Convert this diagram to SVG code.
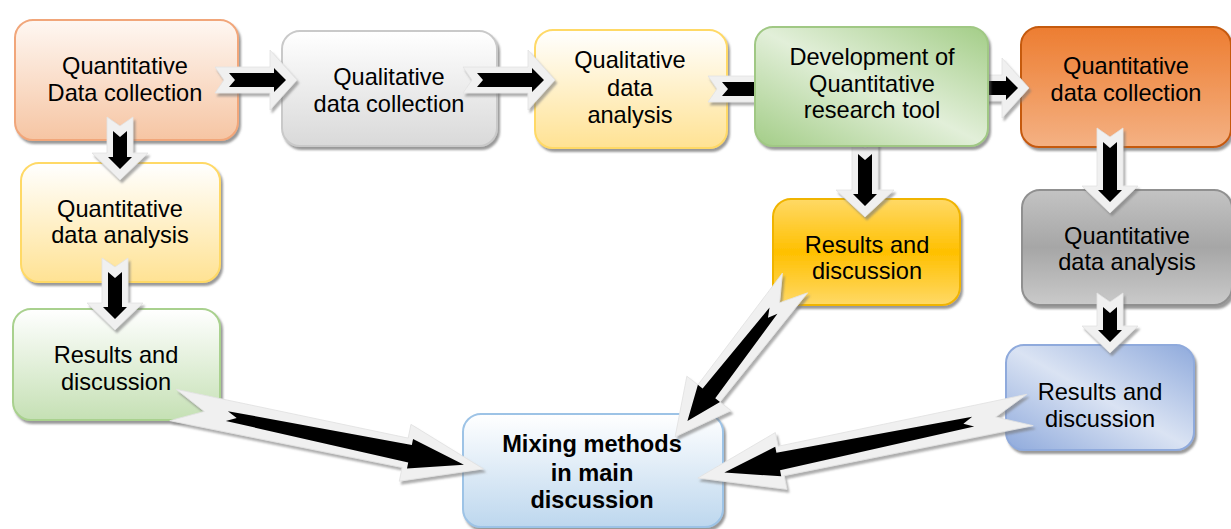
<svg xmlns="http://www.w3.org/2000/svg" width="1231" height="529" viewBox="0 0 1231 529">
<style>
.t{font-family:"Liberation Sans",Arial,sans-serif;font-size:23.6px;fill:#000;text-anchor:middle}
.b{font-weight:bold}
.box{stroke-width:2}
.ao{fill:#f0f0f0;stroke:#e2e2e2;stroke-width:0.8}
.ai{fill:#000}
</style>
<defs>
<filter id="bs" x="-10%" y="-10%" width="125%" height="130%">
<feDropShadow dx="2" dy="3" stdDeviation="1.2" flood-color="#555" flood-opacity="0.6"/>
</filter>
<filter id="as" x="-20%" y="-20%" width="140%" height="140%">
<feDropShadow dx="2" dy="3" stdDeviation="0.8" flood-color="#777" flood-opacity="0.6"/>
</filter>
<linearGradient id="g1" x1="0" y1="0" x2="0" y2="1"><stop offset="0" stop-color="#fef7f2"/><stop offset="1" stop-color="#f6c5a3"/></linearGradient>
<linearGradient id="g2" x1="0" y1="0" x2="0" y2="1"><stop offset="0" stop-color="#ffffff"/><stop offset="1" stop-color="#d9d9d9"/></linearGradient>
<linearGradient id="g3" x1="0" y1="0" x2="0" y2="1"><stop offset="0" stop-color="#ffffff"/><stop offset="1" stop-color="#ffe293"/></linearGradient>
<linearGradient id="g4" x1="0" y1="1" x2="1" y2="0"><stop offset="0" stop-color="#a3cd87"/><stop offset="0.5" stop-color="#e2efd9"/><stop offset="1" stop-color="#a3cd87"/></linearGradient>
<linearGradient id="g5" x1="0" y1="0" x2="0" y2="1"><stop offset="0" stop-color="#ed7d31"/><stop offset="1" stop-color="#f4b183"/></linearGradient>
<linearGradient id="g7" x1="0" y1="0" x2="0" y2="1"><stop offset="0" stop-color="#ffffff"/><stop offset="1" stop-color="#c5e0b4"/></linearGradient>
<linearGradient id="g8" x1="0" y1="0" x2="0" y2="1"><stop offset="0" stop-color="#ffd966"/><stop offset="0.5" stop-color="#ffc000"/><stop offset="1" stop-color="#ffd966"/></linearGradient>
<linearGradient id="g9" x1="0" y1="0" x2="0" y2="1"><stop offset="0" stop-color="#c3c3c3"/><stop offset="0.5" stop-color="#a6a6a6"/><stop offset="1" stop-color="#cacaca"/></linearGradient>
<linearGradient id="g10" x1="0" y1="1" x2="1" y2="0"><stop offset="0" stop-color="#8faadc"/><stop offset="0.5" stop-color="#dae3f3"/><stop offset="1" stop-color="#8faadc"/></linearGradient>
<linearGradient id="g11" x1="0" y1="0" x2="0" y2="1"><stop offset="0" stop-color="#ffffff"/><stop offset="1" stop-color="#bdd7ee"/></linearGradient>
</defs>

<g id="n1"><rect class="box" x="15" y="20" width="223" height="120" rx="18" fill="url(#g1)" stroke="#f1a67a" filter="url(#bs)"/>
<text class="t" x="125" y="74">Quantitative</text><text class="t" x="125" y="101">Data collection</text></g>
<g id="n2"><rect class="box" x="282" y="31" width="215" height="115" rx="18" fill="url(#g2)" stroke="#c9c9c9" filter="url(#bs)"/>
<text class="t" x="389" y="85">Qualitative</text><text class="t" x="389" y="112">data collection</text></g>
<g id="n3"><rect class="box" x="535" y="30" width="192" height="118" rx="18" fill="url(#g3)" stroke="#ffd966" filter="url(#bs)"/>
<text class="t" x="630" y="68">Qualitative</text><text class="t" x="630" y="96">data</text><text class="t" x="630" y="123">analysis</text></g>
<g id="n5"><rect class="box" x="1021" y="27" width="210" height="120" rx="18" fill="url(#g5)" stroke="#c55a11" filter="url(#bs)"/>
<text class="t" x="1126" y="74">Quantitative</text><text class="t" x="1126" y="101">data collection</text></g>
<g id="n6"><rect class="box" x="21" y="163" width="199" height="119" rx="18" fill="url(#g3)" stroke="#ffd966" filter="url(#bs)"/>
<text class="t" x="120" y="217">Quantitative</text><text class="t" x="120" y="243">data analysis</text></g>
<g id="n7"><rect class="box" x="13" y="309" width="207" height="111" rx="18" fill="url(#g7)" stroke="#a9d18e" filter="url(#bs)"/>
<text class="t" x="116" y="363">Results and</text><text class="t" x="116" y="390">discussion</text></g>
<g id="n8"><rect class="box" x="773" y="199" width="187" height="106" rx="18" fill="url(#g8)" stroke="#f0b400" filter="url(#bs)"/>
<text class="t" x="867" y="253">Results and</text><text class="t" x="867" y="279">discussion</text></g>
<g id="n9"><rect class="box" x="1022" y="190" width="210" height="115" rx="18" fill="url(#g9)" stroke="#909090" filter="url(#bs)"/>
<text class="t" x="1127" y="244">Quantitative</text><text class="t" x="1127" y="270">data analysis</text></g>
<g id="n10"><rect class="box" x="1006" y="345" width="188" height="105" rx="18" fill="url(#g10)" stroke="#8faadc" filter="url(#bs)"/>
<text class="t" x="1100" y="400">Results and</text><text class="t" x="1100" y="427">discussion</text></g>
<g id="n11"><rect class="box" x="463" y="414" width="260" height="113" rx="18" fill="url(#g11)" stroke="#9dc3e6" filter="url(#bs)"/>
<text class="t b" x="592" y="452">Mixing methods</text><text class="t b" x="592" y="481">in main</text><text class="t b" x="592" y="508">discussion</text></g>

<g id="connectors">
<g filter="url(#as)"><path class="ao" transform="translate(215,80)" d="M0,-13 L55,-13 L55,-30 L82,0 L55,30 L55,13 L0,13 L9,0 Z"/></g>
<path class="ai" transform="translate(215,80)" d="M14,-7 L59,-7 L59,-12 L71,0 L59,12 L59,7 L14,7 L20,0 Z"/>

<g filter="url(#as)"><path class="ao" transform="translate(463,80)" d="M0,-13 L65,-13 L65,-30 L92,0 L65,30 L65,13 L0,13 L9,0 Z"/></g>
<path class="ai" transform="translate(463,80)" d="M14,-7 L69,-7 L69,-12 L81,0 L69,12 L69,7 L14,7 L20,0 Z"/>

<g filter="url(#as)"><path class="ao" transform="translate(708,89)" d="M0,-13 L50,-13 L50,-29 L77,0 L50,29 L50,13 L0,13 L9,0 Z"/></g>
<path class="ai" transform="translate(708,89)" d="M14,-7 L54,-7 L54,-12 L66,0 L54,12 L54,7 L14,7 L20,0 Z"/>

<g filter="url(#as)"><path class="ao" transform="translate(955,88)" d="M0,-13 L47,-13 L47,-30 L74,0 L47,30 L47,13 L0,13 L9,0 Z"/></g>
<path class="ai" transform="translate(955,88)" d="M14,-7 L51,-7 L51,-12 L63,0 L51,12 L51,7 L14,7 L20,0 Z"/>

<g filter="url(#as)"><path class="ao" transform="translate(865,140) rotate(90)" d="M0,-13 L50,-13 L50,-29 L77,0 L50,29 L50,13 L0,13 L9,0 Z"/></g>
<path class="ai" transform="translate(865,140) rotate(90)" d="M14,-7 L54,-7 L54,-12 L66,0 L54,12 L54,7 L14,7 L20,0 Z"/>

<g filter="url(#as)"><path class="ao" transform="translate(120,117) rotate(90)" d="M0,-13 L36,-13 L36,-28 L63,0 L36,28 L36,13 L0,13 L9,0 Z"/></g>
<path class="ai" transform="translate(120,117) rotate(90)" d="M14,-7 L40,-7 L40,-12 L52,0 L40,12 L40,7 L14,7 L20,0 Z"/>

<g filter="url(#as)"><path class="ao" transform="translate(115,258) rotate(90)" d="M0,-13 L45,-13 L45,-28 L72,0 L45,28 L45,13 L0,13 L9,0 Z"/></g>
<path class="ai" transform="translate(115,258) rotate(90)" d="M14,-7 L49,-7 L49,-12 L61,0 L49,12 L49,7 L14,7 L20,0 Z"/>

<g filter="url(#as)"><path class="ao" transform="translate(1110,128) rotate(90)" d="M0,-13 L58,-13 L58,-28 L85,0 L58,28 L58,13 L0,13 L9,0 Z"/></g>
<path class="ai" transform="translate(1110,128) rotate(90)" d="M14,-7 L62,-7 L62,-12 L74,0 L62,12 L62,7 L14,7 L20,0 Z"/>

<g filter="url(#as)"><path class="ao" transform="translate(1110,293) rotate(90)" d="M0,-13 L33,-13 L33,-28 L60,0 L33,28 L33,13 L0,13 L9,0 Z"/></g>
<path class="ai" transform="translate(1110,293) rotate(90)" d="M14,-7 L37,-7 L37,-12 L49,0 L37,12 L37,7 L14,7 L20,0 Z"/>

<g filter="url(#as)"><path class="ao" transform="translate(173,405) rotate(11.63)" d="M0,-16 L237,-15 L237,-29 L317,0 L237,29 L237,15 L0,16 L32,0 Z"/></g>
<path class="ai" transform="translate(173,405) rotate(11.63)" d="M55,-5 L242,-9 L242,-15 L297,0 L242,15 L242,9 L55,5 L65,0 Z"/>

<g filter="url(#as)"><path class="ao" transform="translate(795,283) rotate(127.93)" d="M0,-16 L140,-14 L140,-28 L195,0 L140,28 L140,14 L0,16 L25,0 Z"/></g>
<path class="ai" transform="translate(795,283) rotate(127.93)" d="M35,-5 L140,-8 L140,-14 L175,0 L140,14 L140,8 L35,5 L44,0 Z"/>

<g filter="url(#as)"><path class="ao" transform="translate(1030,410) rotate(168.43)" d="M0,-16 L254,-15 L254,-29 L339,0 L254,29 L254,15 L0,16 L35,0 Z"/></g>
<path class="ai" transform="translate(1030,410) rotate(168.43)" d="M58,-5 L257,-9 L257,-15 L312,0 L257,15 L257,9 L58,5 L68,0 Z"/>
</g>

<g id="n4"><rect class="box" x="755" y="27" width="233" height="119" rx="18" fill="url(#g4)" stroke="#a0c884" filter="url(#bs)"/>
<text class="t" x="872" y="65">Development of</text><text class="t" x="872" y="92">Quantitative</text><text class="t" x="872" y="118">research tool</text></g>
</svg>
